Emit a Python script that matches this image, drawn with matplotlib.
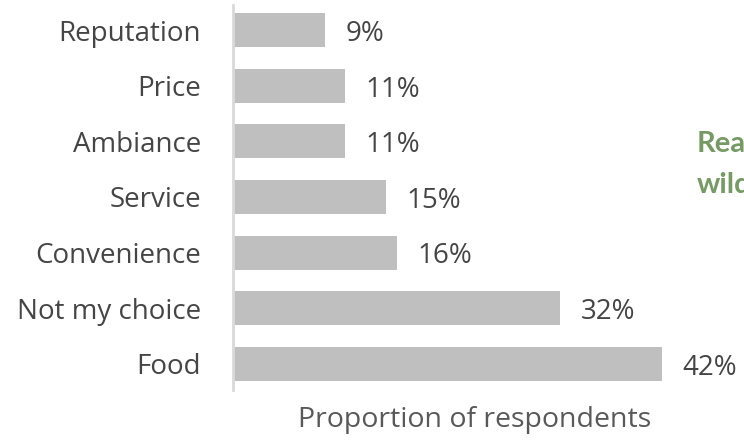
import matplotlib.pyplot as plt

# Survey: main reason for choosing the restaurant
reasons = ["Food", "Not my choice", "Convenience", "Service", "Ambiance", "Price", "Reputation"]
shares = [42, 32, 16, 15, 11, 11, 9]

plt.rcParams['font.family'] = ['Open Sans', 'DejaVu Sans']

W, H = 744, 442
fig = plt.figure(figsize=(W / 100, H / 100), dpi=100)
fig.patch.set_facecolor('white')

# axes placed in pixel terms: y-axis line at x=233, from y=5 down to y=390
ax = fig.add_axes([233 / W, 1 - 390 / H, (W - 233) / W, 385 / H])
pos = list(range(len(reasons)))
ax.barh(pos, shares, height=0.61, color='#bfbfbf')
ax.set_xlim(0, 50)
ax.set_ylim(-0.47, 6.45)

for y, v in zip(pos, shares):
    ax.text(v + 2.0, y - 0.07, f"{v}%", va='center', ha='left',
            fontsize=20, color='#454545')

ax.set_yticks(pos)
ax.set_yticklabels(reasons, fontsize=20, color='#454545')
ax.tick_params(axis='y', length=0, pad=23)
ax.set_xticks([])
for s in ['top', 'right', 'bottom']:
    ax.spines[s].set_visible(False)
ax.spines['left'].set_color('#d9d9d9')
ax.spines['left'].set_linewidth(2)
ax.set_facecolor('none')

fig.text(475 / W, 1 - 420 / H, "Proportion of respondents", ha='center', va='center',
         fontsize=20.5, color='#595959')

# side note, runs off the right edge
fig.text(697 / W, 1 - 152 / H, "Reasons", ha='left', va='baseline',
         fontsize=21, fontweight='bold', color='#759a63', family=['Lato', 'DejaVu Sans'])
fig.text(697 / W, 1 - 193 / H, "wildly", ha='left', va='baseline',
         fontsize=21, fontweight='bold', color='#759a63', family=['Lato', 'DejaVu Sans'])

fig.savefig("out.png", dpi=100)
